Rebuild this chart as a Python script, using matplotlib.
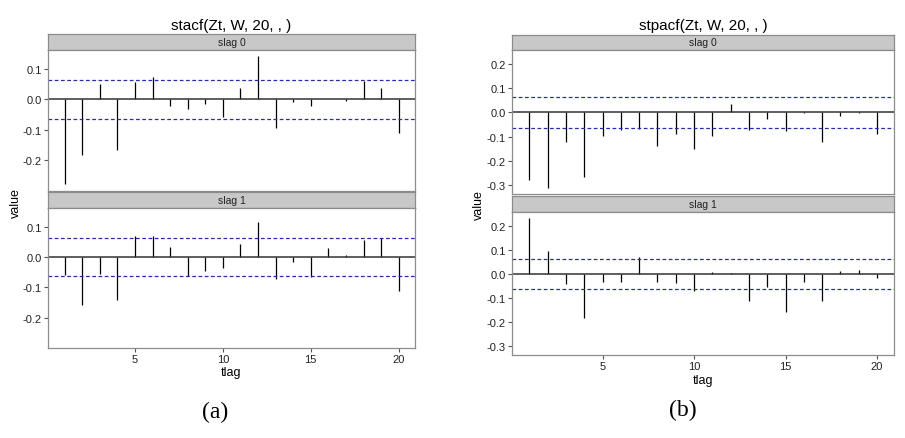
import matplotlib
matplotlib.use('Agg')
import matplotlib.pyplot as plt
import numpy as np

plt.rcParams['font.family'] = ['Liberation Sans', 'DejaVu Sans']

# lags 1..20
lags = np.arange(1, 21)

# (a) stacf
acf_s0 = [-0.277, -0.181, 0.050, -0.165, 0.056, 0.073, -0.020, -0.032, -0.016, -0.059,
          0.039, 0.141, -0.092, -0.010, -0.023, 0.002, -0.006, 0.062, 0.037, -0.110]
acf_s1 = [-0.058, -0.159, -0.055, -0.143, 0.069, 0.071, 0.033, -0.063, -0.046, -0.035,
          0.044, 0.115, -0.071, -0.016, -0.065, 0.030, 0.008, 0.058, 0.063, -0.113]
acf_band = 0.063

# (b) stpacf
pacf_s0 = [-0.281, -0.314, -0.122, -0.268, -0.099, -0.075, -0.067, -0.139, -0.090, -0.150,
           -0.099, 0.036, -0.072, -0.028, -0.078, -0.002, -0.121, -0.017, -0.001, -0.090]
pacf_s1 = [0.231, 0.096, -0.044, -0.185, -0.034, -0.034, 0.071, -0.032, -0.037, -0.073,
           0.008, 0.004, -0.112, -0.055, -0.158, -0.032, -0.114, 0.010, 0.016, -0.016]
pacf_band = 0.063

W, H = 905, 439
fig = plt.figure(figsize=(W / 100, H / 100), dpi=100)

EDGE = '#8c8c8c'


def box(x0, x1, y0, y1):
    # pixel box -> figure fraction rect
    return [x0 / W, 1 - y1 / H, (x1 - x0) / W, (y1 - y0) / H]


def strip(x0, x1, y0, y1, label):
    ax = fig.add_axes(box(x0, x1, y0, y1))
    ax.set_facecolor('#c8c8c8')
    ax.set_xticks([])
    ax.set_yticks([])
    for s in ax.spines.values():
        s.set_color(EDGE)
        s.set_linewidth(0.9)
    ax.text(0.5, 0.5, label, ha='center', va='center', fontsize=7.5, color='#222222',
            transform=ax.transAxes)


def panel(x0, x1, y0, y1, vals, band, ylim, yticks, show_x):
    ax = fig.add_axes(box(x0, x1, y0, y1))
    ax.vlines(lags, 0, vals, color='black', lw=0.9)
    ax.axhline(0, color='#333333', lw=1.1)
    ax.axhline(band, color='#2a2ab4', lw=0.9, dashes=(3, 2))
    ax.axhline(-band, color='#2a2ab4', lw=0.9, dashes=(3, 2))
    ax.set_xlim(0.05, 20.93)
    ax.set_ylim(*ylim)
    ax.set_yticks(yticks)
    ax.set_yticklabels(['%.1f' % t for t in yticks])
    if show_x:
        ax.set_xticks([5, 10, 15, 20])
    else:
        ax.set_xticks([])
    ax.tick_params(axis='both', length=3, width=0.8, color='#555555', labelsize=8,
                   labelcolor='#222222', pad=1.5)
    for s in ax.spines.values():
        s.set_color(EDGE)
        s.set_linewidth(0.9)
    return ax


# panel (a)
ylim_a = (-0.300, 0.162)
yt_a = [-0.2, -0.1, 0.0, 0.1]
strip(48, 415, 35, 51, 'slag 0')
panel(48, 415, 51, 192, acf_s0, acf_band, ylim_a, yt_a, False)
strip(48, 415, 193, 209, 'slag 1')
panel(48, 415, 209, 349, acf_s1, acf_band, ylim_a, yt_a, True)
fig.text(231 / W, 1 - 26 / H, 'stacf(Zt, W, 20, , )', ha='center', va='center', fontsize=11)
fig.text(16 / W, 1 - 203 / H, 'value', ha='center', va='center', rotation=90, fontsize=9)
fig.text(231 / W, 1 - 373 / H, 'tlag', ha='center', va='center', fontsize=9)
fig.text(215 / W, 1 - 412 / H, '(a)', ha='center', va='center', fontsize=17,
         family='Liberation Serif')

# panel (b)
ylim_b = (-0.337, 0.257)
yt_b = [-0.3, -0.2, -0.1, 0.0, 0.1, 0.2]
strip(512, 894, 36, 51, 'slag 0')
panel(512, 894, 51, 195, pacf_s0, pacf_band, ylim_b, yt_b, False)
strip(512, 894, 197, 213, 'slag 1')
panel(512, 894, 213, 356, pacf_s1, pacf_band, ylim_b, yt_b, True)
fig.text(703 / W, 1 - 26 / H, 'stpacf(Zt, W, 20, , )', ha='center', va='center', fontsize=11)
fig.text(479 / W, 1 - 205 / H, 'value', ha='center', va='center', rotation=90, fontsize=9)
fig.text(703 / W, 1 - 381 / H, 'tlag', ha='center', va='center', fontsize=9)
fig.text(683 / W, 1 - 410 / H, '(b)', ha='center', va='center', fontsize=17,
         family='Liberation Serif')

fig.savefig('out.png', dpi=100)
